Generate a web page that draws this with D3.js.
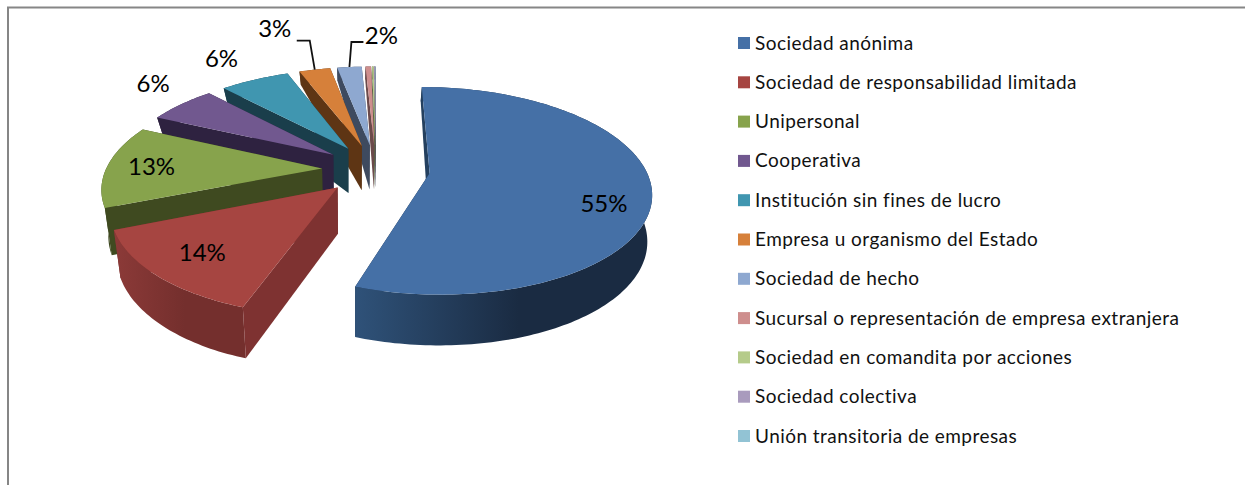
<!DOCTYPE html>
<html><head><meta charset="utf-8">
<script src="https://cdn.jsdelivr.net/npm/d3@7"></script>
<style>html,body{margin:0;padding:0;background:#fff}svg{display:block}</style>
</head><body><svg id="c" width="1245" height="485"></svg>
<script>
const categories = ["Sociedad anónima","Sociedad de responsabilidad limitada","Unipersonal","Cooperativa","Institución sin fines de lucro","Empresa u organismo del Estado","Sociedad de hecho","Sucursal o representación de empresa extranjera","Sociedad en comandita por acciones","Sociedad colectiva","Unión transitoria de empresas"];
const values = [55.3,13.6,13,6.1,6.2,2.8,2.2,0.5,0.15,0.1,0.05];
const topColors = ["#4570a6","#a64541","#87a34c","#71588f","#4096b0","#d6803a","#8ea8d0","#ce8e8d","#b5cb8a","#a99bbd","#92c3d4"];
const wallLight = ["#2f5279","#8c3a38","#3f4a20","#2e2240","#1a3e4b","#5e3514","#3e4a5f","#6b4a4a","#5a6644","#54485f","#46616b"];
const wallDark  = ["#1a2b42","#742f2d","#3a431f","#2e2240","#1a3e4b","#5e3514","#3e4a5f","#6b4a4a","#5a6644","#54485f","#46616b"];
const labelDx = [-48, 46, 44,-28,-33,-40, 32];
const labelDy = [ 12,-24,  0,-22,-22,-42,-33];
const leaderElbow = {5:-5, 6:2};
const leaderEnd = {5:22, 6:-18};
const leaderRise = {5:13, 6:8};

const svg = d3.select("#c");
const W = 1245, H = 485;

// frame
svg.append("path").attr("d",`M8 ${H}V7.5H${W}`).attr("fill","none").attr("stroke","#868686").attr("stroke-width",2);

// pseudo-3D projection of an exploded disc
const X0=376, Y0=169, RX=216, RY=99.4, K=0.169, EXPLODE=0.25;
const pie = d3.pie().sort(null).value(d=>d)(values);
const project = (wx,wy)=>{const s=1/(1+K*wy);return [X0+RX*wx*s, Y0-RY*wy*s];};
const depth = d3.scaleLinear().domain([65,117,143,204,300]).range([13,16,44,47,51]).clamp(true);
const drop = p=>{const d=depth(p[1]);return [p[0]+(350-p[0])*(p[0]<350?0.028:0.016), p[1]+d];};
const line = d3.line();

const defs = svg.append("defs");
const slices = pie.map((a,i)=>{
  const mid=(a.startAngle+a.endAngle)/2;
  const ex=EXPLODE*Math.sin(mid), ey=EXPLODE*Math.cos(mid);
  const apex=project(ex,ey);
  const n=Math.max(2,Math.ceil((a.endAngle-a.startAngle)/0.02));
  const rim=d3.range(n+1).map(j=>{
    const t=a.startAngle+(a.endAngle-a.startAngle)*j/n;
    return project(ex+Math.sin(t),ey+Math.cos(t));
  });
  const anchor=project(ex+Math.sin(mid),ey+Math.cos(mid));
  return {i,apex,rim,anchor};
});

// back to front
const g=svg.append("g");
const startWall=["#24405f","#7e3231"];
slices.slice().reverse().forEach(s=>{
  const {i,apex,rim}=s;
  const x=d3.extent(rim,p=>p[0]);
  const gid="w"+i;
  const grad=defs.append("linearGradient").attr("id",gid).attr("gradientUnits","userSpaceOnUse")
    .attr("x1",x[0]).attr("x2",x[0]+(x[1]-x[0])*0.55).attr("y1",0).attr("y2",0);
  grad.append("stop").attr("offset",0).attr("stop-color",wallLight[i]);
  grad.append("stop").attr("offset",1).attr("stop-color",wallDark[i]);
  const a2=drop(apex), r0=rim[0], rN=rim[rim.length-1];
  g.append("path").attr("d",line([apex,rN,drop(rN),a2])+"Z").attr("fill",wallDark[i]);
  g.append("path").attr("d",line(rim.concat(rim.map(drop).reverse()))+"Z").attr("fill",`url(#${gid})`);
  g.append("path").attr("d",line([apex,r0,drop(r0),a2])+"Z").attr("fill",startWall[i]||wallLight[i]);
  g.append("path").attr("d",line([apex].concat(rim))+"Z").attr("fill",topColors[i]);
});

// data labels
const labelFont='Lato, Carlito, sans-serif';
slices.slice(0,labelDx.length).forEach(s=>{
  const i=s.i, lx=s.anchor[0]+labelDx[i], ly=s.anchor[1]+labelDy[i];
  if(i in leaderEnd){
    const y=ly+leaderRise[i];
    svg.append("path").attr("d",line([[lx+leaderEnd[i],y],[s.anchor[0]+leaderElbow[i],y],s.anchor]))
      .attr("fill","none").attr("stroke","#111").attr("stroke-width",1.8);
  }
  svg.append("text").attr("x",lx).attr("y",ly).attr("text-anchor","middle").attr("dominant-baseline","central")
    .attr("font-family",labelFont).attr("font-size",24).attr("fill","#000")
    .text(d3.format(".0f")(values[i])+"%");
});

// legend
const legendY=d3.scalePoint().domain(categories).range([42,435]);
const leg=svg.append("g").selectAll("g").data(categories).join("g").attr("transform",d=>`translate(738,${legendY(d)})`);
leg.append("rect").attr("x",0).attr("y",-5).attr("width",12).attr("height",12).attr("fill",(d,i)=>topColors[i]);
leg.append("text").attr("x",17).attr("y",0).attr("dominant-baseline","central")
  .attr("font-family",labelFont).attr("font-size",19).attr("letter-spacing",0.45).attr("fill","#111").text(d=>d);
</script></body></html>
